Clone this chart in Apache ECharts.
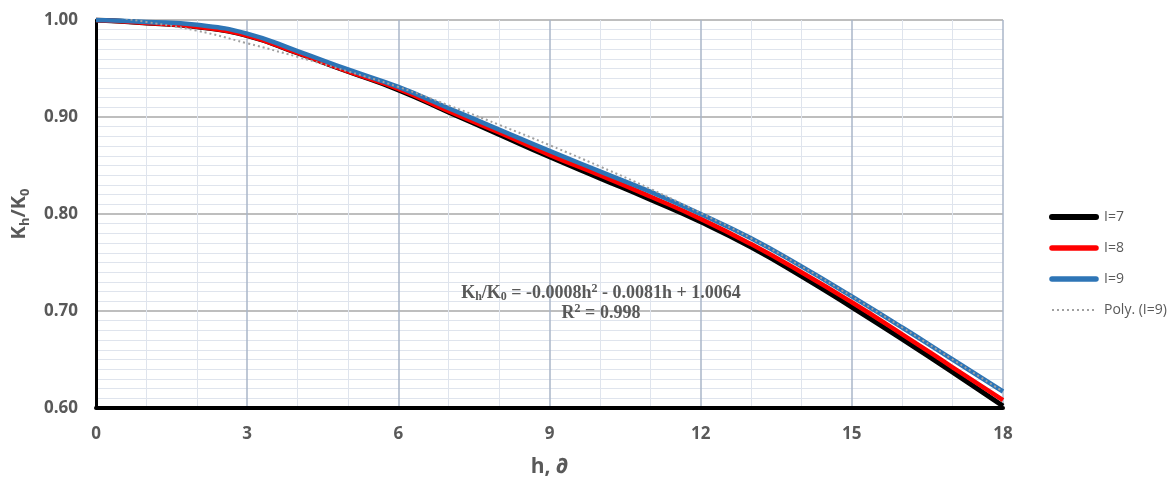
<!DOCTYPE html>
<html>
<head>
<meta charset="utf-8">
<script src="https://cdn.jsdelivr.net/npm/echarts@6/dist/echarts.min.js"></script>
<style>
  html, body { margin: 0; padding: 0; background: #fff; }
  #main { width: 1174px; height: 483px; }
</style>
</head>
<body>
<div id="main"></div>
<script type="text/javascript">
// h, values
var hVals   = [0, 1, 2, 3, 4, 5, 6, 7, 8, 9, 10, 11, 12, 13, 14, 15, 16, 17, 18];
var kI7     = [1.000, 0.997, 0.993, 0.984, 0.966, 0.947, 0.928, 0.905, 0.882, 0.859, 0.837, 0.815, 0.792, 0.766, 0.736, 0.704, 0.671, 0.637, 0.602];
var kI8     = [1.000, 0.997, 0.993, 0.984, 0.966, 0.947, 0.929, 0.906, 0.884, 0.861, 0.840, 0.818, 0.795, 0.769, 0.740, 0.709, 0.676, 0.642, 0.608];
var kI9     = [1.000, 0.998, 0.995, 0.986, 0.968, 0.949, 0.931, 0.909, 0.887, 0.865, 0.844, 0.823, 0.800, 0.775, 0.746, 0.715, 0.683, 0.650, 0.617];
var kPoly   = [1.006, 0.998, 0.989, 0.976, 0.962, 0.947, 0.931, 0.912, 0.892, 0.871, 0.849, 0.826, 0.801, 0.775, 0.746, 0.715, 0.683, 0.650, 0.617];
var seriesNames = ['I=7', 'I=8', 'I=9', 'Poly. (I=9)'];

function pairs(ys) {
    var out = [];
    for (var i = 0; i < hVals.length; i++) out.push([hVals[i], ys[i]]);
    return out;
}

var labelColor = '#595959';
var serif = { fontFamily: 'Liberation Serif', fontWeight: 'bold', fill: labelColor };
var chart = echarts.init(document.getElementById('main'));

// thick lines in the legend like the original, dotted one stays thin
var legendData = [
    { name: seriesNames[0], lineStyle: { width: 6, cap: 'round' } },
    { name: seriesNames[1], lineStyle: { width: 5.5, cap: 'round' } },
    { name: seriesNames[2], lineStyle: { width: 5.5, cap: 'round' } },
    { name: seriesNames[3], lineStyle: { width: 2, type: [2, 3] } }
];

var option = {
    animation: false,
    grid: { left: 96, right: 171, top: 20, bottom: 74 },
    legend: {
        orient: 'vertical',
        left: 1049,
        top: 210,
        padding: 0,
        itemWidth: 44,
        itemHeight: 14,
        itemGap: 17,
        data: legendData,
        itemStyle: { opacity: 0 },
        textStyle: { color: labelColor, fontSize: 14, fontFamily: 'Open Sans', padding: [0, 0, 0, 3] }
    },
    xAxis: {
        type: 'value',
        min: 0, max: 18, interval: 3,
        name: 'h, ∂',
        nameLocation: 'middle',
        nameGap: 49,
        nameTextStyle: { color: labelColor, fontSize: 21, fontWeight: 'bold', fontFamily: 'Open Sans' },
        axisLine: { onZero: false, lineStyle: { color: '#000', width: 4 } },
        axisTick: { show: false },
        axisLabel: { color: labelColor, fontSize: 17, fontWeight: 'bold', fontFamily: 'Open Sans', margin: 18 },
        splitLine: { show: true, lineStyle: { color: '#aab6c8', width: 1.5 } },
        minorTick: { show: false, splitNumber: 3 },
        minorSplitLine: { show: true, lineStyle: { color: '#dfe4ed', width: 1 } }
    },
    yAxis: {
        type: 'value',
        min: 0.6, max: 1.0, interval: 0.1,
        name: '{b|K}{s|h}{b|/K}{s|0}',
        nameLocation: 'middle',
        nameGap: 64,
        nameTextStyle: {
            rich: {
                b: { color: labelColor, fontSize: 20, fontWeight: 'bold', fontFamily: 'Open Sans', lineHeight: 26 },
                s: { color: labelColor, fontSize: 13, fontWeight: 'bold', fontFamily: 'Open Sans', verticalAlign: 'bottom', lineHeight: 14 }
            }
        },
        axisLine: { show: true, onZero: false, lineStyle: { color: '#000', width: 3 } },
        axisTick: { show: false },
        axisLabel: {
            color: labelColor, fontSize: 17, fontWeight: 'bold', fontFamily: 'Open Sans', margin: 18,
            formatter: function (v) { return v.toFixed(2); }
        },
        splitLine: { show: true, lineStyle: { color: '#a9a9a9', width: 1.5 } },
        minorTick: { show: false, splitNumber: 10 },
        minorSplitLine: { show: true, lineStyle: { color: '#dfe4ed', width: 1 } }
    },
    // trendline equation
    graphic: [
        {
            type: 'text', x: 601, y: 283, z: 100,
            style: {
                text: '{t|K}{s|h}{t|/K}{s|0}{t| = -0.0008h}{p|2}{t| - 0.0081h + 1.0064}',
                align: 'center',
                rich: {
                    t: Object.assign({ fontSize: 18, lineHeight: 20 }, serif),
                    s: Object.assign({ fontSize: 12, verticalAlign: 'bottom', lineHeight: 12 }, serif),
                    p: Object.assign({ fontSize: 12, verticalAlign: 'top', lineHeight: 12 }, serif)
                }
            }
        },
        {
            type: 'text', x: 601, y: 303, z: 100,
            style: {
                text: '{t|R}{p|2}{t| = 0.998}',
                align: 'center',
                rich: {
                    t: Object.assign({ fontSize: 18, lineHeight: 20 }, serif),
                    p: Object.assign({ fontSize: 12, verticalAlign: 'top', lineHeight: 12 }, serif)
                }
            }
        }
    ],
    series: [
        {
            name: 'I=7', type: 'line', smooth: true, symbol: 'none',
            data: pairs(kI7),
            lineStyle: { color: '#000000', width: 5 }, itemStyle: { color: '#000000' }
        },
        {
            name: 'I=8', type: 'line', smooth: true, symbol: 'none',
            data: pairs(kI8),
            lineStyle: { color: '#ff0000', width: 4.5 }, itemStyle: { color: '#ff0000' }
        },
        {
            name: 'I=9', type: 'line', smooth: true, symbol: 'none',
            data: pairs(kI9),
            lineStyle: { color: '#2e75b6', width: 4.5 }, itemStyle: { color: '#2e75b6' }
        },
        {
            name: 'Poly. (I=9)', type: 'line', smooth: true, symbol: 'none',
            data: pairs(kPoly),
            lineStyle: { color: '#a0a0a0', width: 2, type: [2, 3] }, itemStyle: { color: '#a0a0a0' }
        }
    ]
};

chart.setOption(option);
</script>
</body>
</html>
